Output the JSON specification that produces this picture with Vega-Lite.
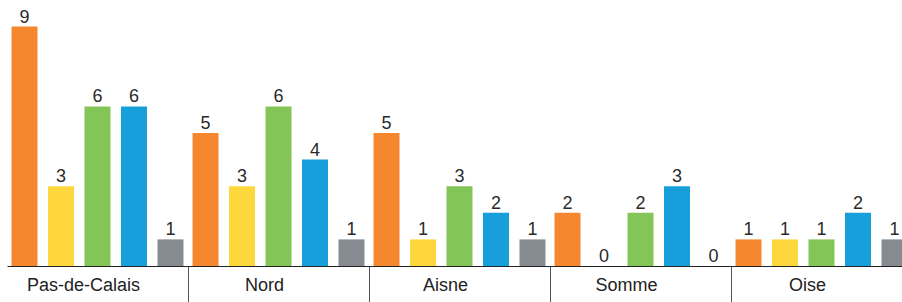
{
  "$schema": "https://vega.github.io/schema/vega-lite/v6.json",
  "width": 895,
  "height": 266,
  "autosize": {"type": "none"},
  "padding": {"left": 7, "top": 0, "right": 0, "bottom": 36},
  "background": "white",
  "config": {"view": {"stroke": null}, "font": "Liberation Sans"},
  "data": {"values": [
    {"dept": "Pas-de-Calais", "s": "A", "v": 9},
    {"dept": "Pas-de-Calais", "s": "B", "v": 3},
    {"dept": "Pas-de-Calais", "s": "C", "v": 6},
    {"dept": "Pas-de-Calais", "s": "D", "v": 6},
    {"dept": "Pas-de-Calais", "s": "E", "v": 1},
    {"dept": "Nord", "s": "A", "v": 5},
    {"dept": "Nord", "s": "B", "v": 3},
    {"dept": "Nord", "s": "C", "v": 6},
    {"dept": "Nord", "s": "D", "v": 4},
    {"dept": "Nord", "s": "E", "v": 1},
    {"dept": "Aisne", "s": "A", "v": 5},
    {"dept": "Aisne", "s": "B", "v": 1},
    {"dept": "Aisne", "s": "C", "v": 3},
    {"dept": "Aisne", "s": "D", "v": 2},
    {"dept": "Aisne", "s": "E", "v": 1},
    {"dept": "Somme", "s": "A", "v": 2},
    {"dept": "Somme", "s": "B", "v": 0},
    {"dept": "Somme", "s": "C", "v": 2},
    {"dept": "Somme", "s": "D", "v": 3},
    {"dept": "Somme", "s": "E", "v": 0},
    {"dept": "Oise", "s": "A", "v": 1},
    {"dept": "Oise", "s": "B", "v": 1},
    {"dept": "Oise", "s": "C", "v": 1},
    {"dept": "Oise", "s": "D", "v": 2},
    {"dept": "Oise", "s": "E", "v": 1}
  ]},
  "encoding": {
    "x": {
      "field": "dept", "type": "nominal",
      "sort": ["Pas-de-Calais", "Nord", "Aisne", "Somme", "Oise"],
      "scale": {"range": [0, 905], "paddingInner": 0, "paddingOuter": 0},
      "axis": {
        "title": null,
        "bandPosition": 0,
        "tickSize": 36,
        "tickWidth": 1,
        "tickColor": "#555555",
        "tickOpacity": {"condition": {"test": "datum.value === 'Pas-de-Calais'", "value": 0}, "value": 1},
        "domainColor": "#222222",
        "domainWidth": 1,
        "labelAngle": 0,
        "labelOffset": -14,
        "labelPadding": -12,
        "labelBaseline": "alphabetic",
        "labelFontSize": 18,
        "labelColor": "#222222",
        "labelFont": "Liberation Sans"
      }
    },
    "xOffset": {
      "field": "s", "type": "nominal",
      "sort": ["A", "B", "C", "D", "E"],
      "scale": {"paddingInner": 0.288, "paddingOuter": 0.124}
    },
    "y": {
      "field": "v", "type": "quantitative",
      "scale": {"domain": [0, 10], "nice": false},
      "axis": null
    }
  },
  "layer": [
    {
      "mark": {"type": "bar"},
      "encoding": {
        "color": {
          "field": "s", "type": "nominal", "legend": null,
          "scale": {"domain": ["A", "B", "C", "D", "E"],
                    "range": ["#F5872F", "#FDD73B", "#83C557", "#179FDB", "#868B92"]}
        }
      }
    },
    {
      "mark": {"type": "text", "baseline": "alphabetic", "dy": -4, "fontSize": 18, "color": "#2a2a2a", "font": "Liberation Sans"},
      "encoding": {"text": {"field": "v", "type": "quantitative"}}
    }
  ]
}
